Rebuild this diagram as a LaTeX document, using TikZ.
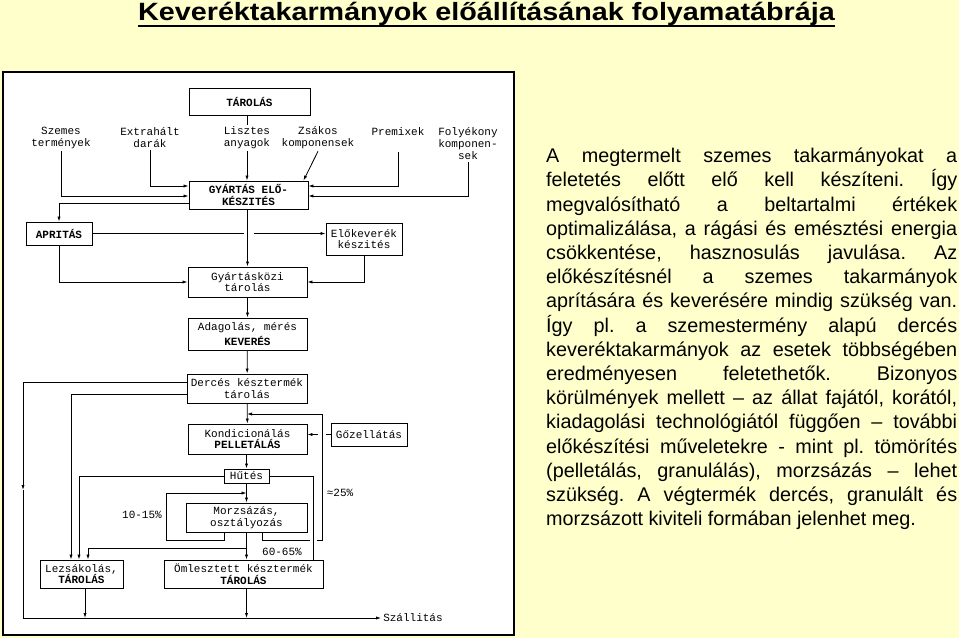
\documentclass[tikz,border=0pt]{standalone}
\usepackage{fontspec}
\setmainfont{Liberation Sans}
\newfontfamily\boxfont{Liberation Mono}
\newfontfamily\titlefont[FakeStretch=1.15]{Liberation Sans}
\usetikzlibrary{arrows.meta}
\definecolor{bgyellow}{RGB}{255,255,204}

\begin{document}
\begin{tikzpicture}[x=1pt,y=-1pt,
        >={Latex[length=5pt,width=3.2pt]},
        box/.style={draw,line width=0.9pt,inner sep=0pt,align=center,
            font=\boxfont\fontsize{11}{11.5}\selectfont},
        lbl/.style={inner sep=2pt,align=center,
            font=\boxfont\fontsize{11}{12}\selectfont},
        conn/.style={line width=0.8pt}]

        % background, title, panel
        \fill[bgyellow] (0,0) rectangle (959,638);
        \useasboundingbox (0,0) rectangle (959,638);
        \node[anchor=base,inner sep=0pt,font=\titlefont\bfseries\fontsize{25}{30}\selectfont] (title) at (486.5,20) {Keveréktakarmányok előállításának folyamatábrája};
        \draw[line width=2pt] ([yshift=-5.5pt]title.base west) -- ([yshift=-5.5pt]title.base east);
        \draw[line width=2.5pt,fill=white] (3,72) rectangle (514,635);

        % boxes
        \node[box,minimum width=121pt,minimum height=27pt] (tarolas) at (249.5,101.5) {\textbf{TÁROLÁS}};
        \node[box,minimum width=119pt,minimum height=28pt] (gyartas) at (248.5,195) {\textbf{GYÁRTÁS ELŐ-}\\\textbf{KÉSZITÉS}};
        \node[box,minimum width=66pt,minimum height=23pt] (apritas) at (59,233.5) {\textbf{APRITÁS}};
        \node[box,minimum width=76pt,minimum height=32pt] (elokev) at (364,239) {Előkeverék\\készités};
        \node[box,minimum width=119pt,minimum height=30pt] (gykozi) at (247.5,282) {Gyártásközi\\tárolás};
        \node[box,minimum width=119pt,minimum height=32pt] (adagolas) at (247.5,334) {Adagolás, mérés\\[4pt]\textbf{KEVERÉS}};
        \node[box,minimum width=120pt,minimum height=29pt] (derces) at (247,388.5) {Dercés késztermék\\tárolás};
        \node[box,minimum width=119pt,minimum height=30pt] (kond) at (247.5,439) {Kondicionálás\\\textbf{PELLETÁLÁS}};
        \node[box,minimum width=76pt,minimum height=23pt] (gozell) at (369,434.5) {Gőzellátás};
        \node[box,minimum width=45pt,minimum height=14pt] (hutes) at (246.5,476) {Hűtés};
        \node[box,minimum width=121pt,minimum height=29pt] (morzs) at (246.5,517.5) {Morzsázás,\\osztályozás};
        \node[box,minimum width=83pt,minimum height=28pt] (lezsak) at (81.5,574) {Lezsákolás,\\\textbf{TÁROLÁS}};
        \node[box,minimum width=159pt,minimum height=28pt] (omlesz) at (243.5,574) {Ömlesztett késztermék\\\textbf{TÁROLÁS}};

        % raw materials
        \node[lbl] (szemes) at (61,138) {Szemes\\termények};
        \node[lbl] (extrahalt) at (150,138) {Extrahált\\darák};
        \node[lbl] (lisztes) at (247,138) {Lisztes\\anyagok};
        \node[lbl] (zsakos) at (318,138) {Zsákos\\komponensek};
        \node[lbl] (premix) at (398,132) {Premixek};
        \node[lbl] (folyekony) at (468,144) {Folyékony\\komponen-\\sek};

        \node[lbl] (p1015) at (142,515) {10-15\%};
        \node[lbl] (p6065) at (282,552) {60-65\%};
        \node[lbl] (p25) at (340,493) {≈25\%};
        \node[lbl] (szallitas) at (413,618) {Szállitás};

        % inputs
        \draw[conn] (tarolas.south -| lisztes.north) -- (lisztes.north);
        \draw[conn,->] (lisztes.south) -- (lisztes.south |- gyartas.north);
        \draw[conn,->] (szemes.south) |- (gyartas.west |- 0,196);
        \draw[conn,->] (extrahalt.south) |- (gyartas.west |- 0,186);
        \draw[conn,->] (zsakos.south) -- ([xshift=-5pt]gyartas.north east);
        \draw[conn,->] ([yshift=-14pt]premix.south) |- (gyartas.east |- 0,186);
        \draw[conn,->] (folyekony.south) |- (gyartas.east |- 0,196);

        % preparation
        \draw[conn,->] (gyartas.west |- 0,203) -| (apritas.north);
        \draw[conn] (apritas.east) -- ([xshift=-5pt]gyartas.south |- apritas.east);
        \draw[conn,->] ([xshift=5pt]gyartas.south |- apritas.east) -- (apritas.east -| elokev.west);
        \draw[conn,->] (gyartas.south -| gykozi.north) -- (gykozi.north);
        \draw[conn,->] (apritas.south) |- (gykozi.west);
        \draw[conn,->] (elokev.south) |- (gykozi.east);
        \draw[conn,->] (gykozi) -- (adagolas);
        \draw[conn,->] (adagolas) -- (derces);
        \draw[conn,->] (derces) -- (kond);

        % meal product out
        \coordinate (leftmid) at (23,490);
        \draw[conn,->] (derces.west |- 0,382) -| (leftmid);
        \draw[conn,->] (leftmid) |- (szallitas.west);
        \draw[conn,->] (derces.west |- 0,394) -| ([xshift=-10.5pt]lezsak.north);

        % pelleting
        \draw[conn] (gozell.west) -- ([xshift=-5pt]gozell.west);
        \draw[conn,->] ([xshift=-13pt]gozell.west) -- (gozell.west -| kond.east);
        \draw[conn,->] (kond.south -| hutes.north) -- (hutes.north);
        \draw[conn,->] (hutes) -- (morzs);
        \draw[conn,->] (hutes.west) -| ([xshift=-2.5pt]lezsak.north);
        \draw[conn] (hutes.east) -| (omlesz.north -| 313,0);

        % crumbling loops
        \draw[conn,->] ([xshift=-22.5pt]morzs.south) |- (166,540) |- (hutes.south |- 0,493);
        \draw[conn] ([xshift=16pt]morzs.south) |- (309.5,540);
        \draw[conn,->] (317,540) -- (322,540) -- (322,414) -- (derces.south |- 0,414);
        \coordinate (split) at (morzs.south |- 0,548);
        \draw[conn,->] (morzs.south) -- (morzs.south |- omlesz.north);
        \draw[conn,->] (split) -| ([xshift=6.5pt]lezsak.north);

        % dispatch
        \draw[conn,->] ([xshift=3.5pt]lezsak.south) -- ([xshift=3.5pt]lezsak.south |- 0,618);
        \draw[conn,->] (morzs.south |- omlesz.south) -- (morzs.south |- 0,618);

        % description
        \node[anchor=north west,inner sep=0pt,text width=411pt,align=justify,
            font=\fontsize{19.8}{24.2}\selectfont] (leiras) at (546,148) {\hyphenpenalty=10000\tolerance=10000\frenchspacing
            A megtermelt szemes takarmányokat a\linebreak
            feletetés előtt elő kell készíteni. Így\linebreak
            megvalósítható a beltartalmi értékek\linebreak
            optimalizálása, a rágási és emésztési energia\linebreak
            csökkentése, hasznosulás javulása. Az\linebreak
            előkészítésnél a szemes takarmányok\linebreak
            aprítására és keverésére mindig szükség van.\linebreak
            Így pl. a szemestermény alapú dercés\linebreak
            keveréktakarmányok az esetek többségében\linebreak
            eredményesen feletethetők. Bizonyos\linebreak
            körülmények mellett – az állat fajától, korától,\linebreak
            kiadagolási technológiától függően – további\linebreak
            előkészítési műveletekre - mint pl. tömörítés\linebreak
            (pelletálás, granulálás), morzsázás – lehet\linebreak
            szükség. A végtermék dercés, granulált és\linebreak
            morzsázott kiviteli formában jelenhet meg.};
\end{tikzpicture}
\end{document}
